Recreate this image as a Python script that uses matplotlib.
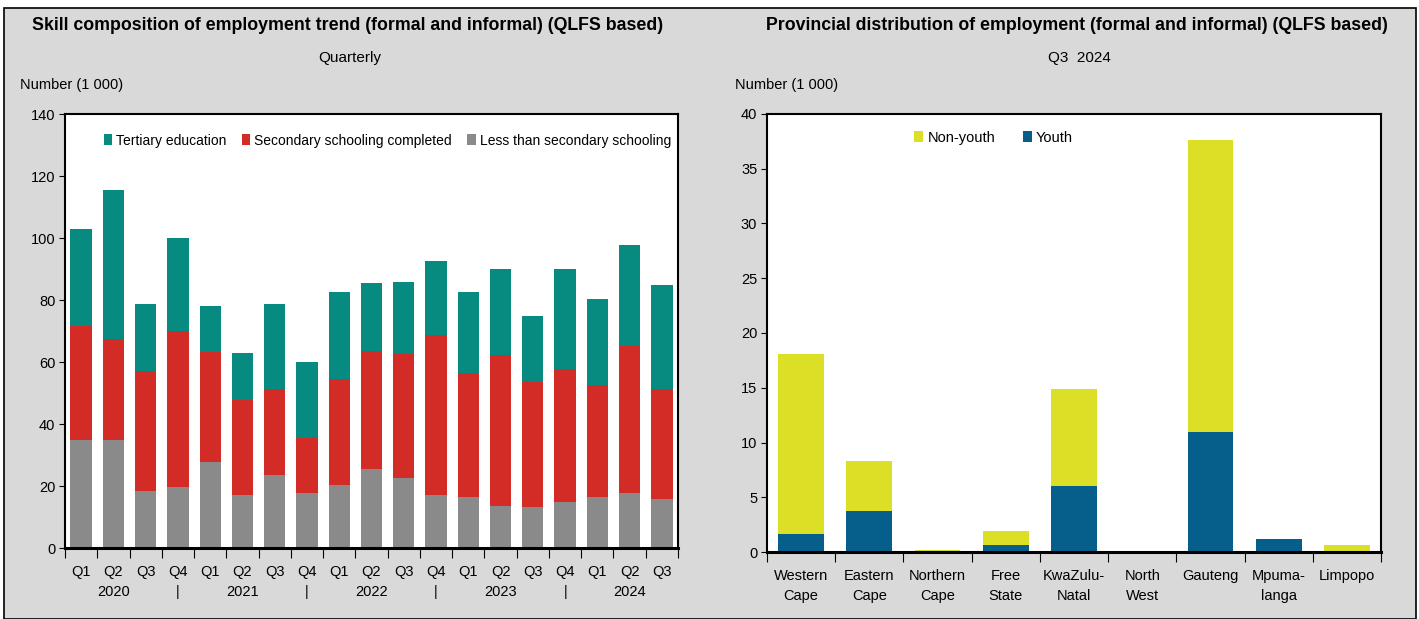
import numpy as np
import matplotlib
matplotlib.use("Agg")
import matplotlib.pyplot as plt
from matplotlib.patches import Rectangle

plt.rcParams['font.family'] = ['Liberation Sans Narrow', 'Liberation Sans', 'DejaVu Sans']

# left chart: skill composition, quarterly (thousands)
quarters = ["Q1", "Q2", "Q3", "Q4", "Q1", "Q2", "Q3", "Q4", "Q1", "Q2", "Q3", "Q4",
            "Q1", "Q2", "Q3", "Q4", "Q1", "Q2", "Q3"]
year_row = ["", "2020", "", "|", "", "2021", "", "|", "", "2022", "", "|",
            "", "2023", "", "|", "", "2024", ""]
less_secondary = [35.0, 35.0, 18.4, 19.8, 27.8, 17.1, 23.6, 17.7, 20.2, 25.6, 22.5, 17.1,
                  16.6, 13.7, 13.3, 15.0, 16.6, 17.7, 15.9]
secondary_top = [71.7, 67.5, 57.1, 69.9, 63.1, 47.8, 51.2, 35.6, 54.6, 63.6, 62.7, 68.8,
                 56.4, 62.2, 53.7, 57.6, 52.5, 65.2, 51.2]
total = [102.8, 115.4, 78.8, 99.9, 78.0, 63.0, 78.8, 60.0, 82.5, 85.5, 85.9, 92.6,
         82.5, 90.0, 75.0, 90.0, 80.4, 97.6, 85.0]

# right chart: provincial distribution Q3 2024 (thousands)
provinces = ["Western\nCape", "Eastern\nCape", "Northern\nCape", "Free\nState", "KwaZulu-\nNatal",
             "North\nWest", "Gauteng", "Mpuma-\nlanga", "Limpopo"]
youth = [1.6, 3.7, 0.0, 0.65, 6.0, 0.0, 11.0, 1.2, 0.0]
non_youth_total = [18.1, 8.3, 0.2, 1.9, 14.9, 0.0, 37.6, 1.2, 0.6]

TEAL = "#078a80"
RED = "#d32b25"
GREY = "#8a8a8a"
YELLOW = "#dbe027"
BLUE = "#065f8a"
BG = "#d9d9d9"

W, H = 1419, 619
fig = plt.figure(figsize=(W / 100, H / 100), dpi=100)
fig.patch.set_facecolor("white")
fig.patches.append(Rectangle((4 / W, 0), 1412 / W, (H - 8) / H, transform=fig.transFigure,
                             facecolor=BG, edgecolor="black", linewidth=1.2, zorder=-5))


def px_axes(x0, y0, x1, y1):
    return fig.add_axes([x0 / W, (H - y1) / H, (x1 - x0) / W, (y1 - y0) / H])


def style_axes(ax):
    ax.set_facecolor("white")
    for s in ax.spines.values():
        s.set_linewidth(1.5)
        s.set_color("black")
    ax.spines["bottom"].set_linewidth(2.2)
    ax.tick_params(axis="y", direction="out", length=4, width=0.8, labelsize=10.5, pad=3)


# ---- left panel
ax1 = px_axes(65, 114, 678, 548)
style_axes(ax1)
x = np.arange(len(quarters))
less_arr = np.array(less_secondary)
sec_arr = np.array(secondary_top) - less_arr
ter_arr = np.array(total) - np.array(secondary_top)
w = 0.66
ax1.bar(x, ter_arr, w, bottom=np.array(secondary_top), color=TEAL, label="Tertiary education", zorder=2)
ax1.bar(x, sec_arr, w, bottom=less_arr, color=RED, label="Secondary schooling completed", zorder=2)
ax1.bar(x, less_arr, w, color=GREY, label="Less than secondary schooling", zorder=2)
ax1.set_xlim(-0.5, len(quarters) - 0.5)
ax1.set_ylim(0, 140)
ax1.set_yticks(np.arange(0, 141, 20))
ax1.set_xticks(np.arange(-0.5, len(quarters), 1.0))
ax1.set_xticklabels([])
ax1.tick_params(axis="x", which="major", direction="out", length=7, width=0.8)
ax1.set_xticks(x, minor=True)
ax1.set_xticklabels([q + "\n" + yr for q, yr in zip(quarters, year_row)], minor=True,
                    fontsize=10.5, linespacing=1.55)
ax1.tick_params(axis="x", which="minor", length=0, pad=12)
ax1.legend(ncol=3, loc="upper left", bbox_to_anchor=(0.063, 0.955), frameon=False,
           fontsize=10, handlelength=0.6, handleheight=0.8, handletextpad=0.3,
           columnspacing=1.1, borderaxespad=0, borderpad=0)

fig.text(348 / W, 1 - 26 / H, "Skill composition of employment trend (formal and informal) (QLFS based)",
         ha="center", va="center", fontsize=12.8, fontweight="bold")
fig.text(350 / W, 1 - 58 / H, "Quarterly", ha="center", va="center", fontsize=11)
fig.text(20 / W, 1 - 85 / H, "Number (1 000)", ha="left", va="center", fontsize=10.5)

# ---- right panel
ax2 = px_axes(767, 114, 1381, 552)
style_axes(ax2)
xp = np.arange(len(provinces))
youth_arr = np.array(youth)
non_youth = np.array(non_youth_total) - youth_arr
ax2.bar(xp, non_youth, 0.67, bottom=youth_arr, color=YELLOW, label="Non-youth", zorder=2)
ax2.bar(xp, youth_arr, 0.67, color=BLUE, label="Youth", zorder=2)
ax2.set_xlim(-0.5, len(provinces) - 0.5)
ax2.set_ylim(0, 40)
ax2.set_yticks(np.arange(0, 41, 5))
ax2.set_xticks(np.arange(-0.5, len(provinces), 1.0))
ax2.set_xticklabels([])
ax2.tick_params(axis="x", which="major", direction="out", length=7, width=0.8)
ax2.set_xticks(xp, minor=True)
ax2.set_xticklabels(provinces, minor=True, fontsize=10.5, linespacing=1.55)
ax2.tick_params(axis="x", which="minor", length=0, pad=12)
ax2.legend(ncol=2, loc="upper left", bbox_to_anchor=(0.24, 0.962), frameon=False,
           fontsize=10.5, handlelength=0.6, handleheight=0.8, handletextpad=0.3,
           columnspacing=1.9, borderaxespad=0, borderpad=0)

fig.text(1077 / W, 1 - 26 / H, "Provincial distribution of employment (formal and informal) (QLFS based)",
         ha="center", va="center", fontsize=12.8, fontweight="bold")
fig.text(1079 / W, 1 - 58 / H, "Q3  2024", ha="center", va="center", fontsize=11)
fig.text(735 / W, 1 - 85 / H, "Number (1 000)", ha="left", va="center", fontsize=10.5)

fig.savefig("out.png", dpi=100, facecolor=fig.get_facecolor())
